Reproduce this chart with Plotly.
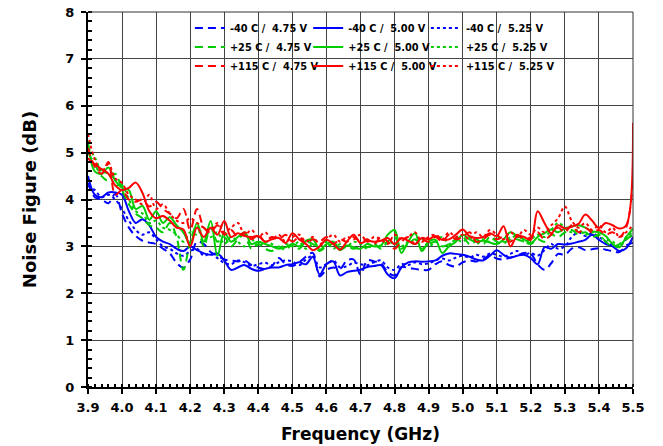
"""Noise figure vs frequency over temperature and supply."""

import numpy as np
import plotly.graph_objects as go

# frequency grid (GHz), 0.02 GHz steps from 3.90 to 5.50
freq_ghz = np.round(np.arange(3.90, 5.5001, 0.02), 2)

nf_m40_475 = [
    4.35, 4.05, 4.00, 3.92, 4.12, 3.70, 3.40, 3.22, 3.12, 3.08,
    3.05, 2.95, 2.85, 2.65, 2.55, 2.72, 3.10, 3.05, 2.88, 2.80,
    2.72, 2.70, 2.68, 2.70, 2.60, 2.55, 2.52, 2.58, 2.75, 2.62,
    2.58, 2.66, 2.78, 2.86, 2.36, 2.50, 2.55, 2.52, 2.70, 2.72,
    2.40, 2.70, 2.68, 2.64, 2.45, 2.38, 2.56, 2.54, 2.52, 2.50,
    2.50, 2.62, 2.68, 2.60, 2.57, 2.66, 2.70, 2.68, 2.72, 2.82,
    2.74, 2.72, 2.76, 2.80, 2.86, 2.84, 2.62, 2.50, 2.64, 2.84,
    2.82, 2.95, 2.98, 2.92, 2.94, 2.96, 2.93, 2.90, 2.88, 3.02,
    3.08,
]
nf_m40_500 = [
    4.50, 4.10, 4.05, 4.15, 4.15, 4.10, 3.75, 3.50, 3.58, 3.45,
    3.20, 3.10, 3.05, 2.95, 2.90, 3.00, 2.92, 2.85, 2.82, 2.85,
    2.70, 2.50, 2.55, 2.60, 2.52, 2.48, 2.52, 2.55, 2.55, 2.60,
    2.62, 2.66, 2.62, 2.78, 2.40, 2.62, 2.68, 2.38, 2.45, 2.48,
    2.50, 2.56, 2.58, 2.60, 2.40, 2.32, 2.55, 2.66, 2.68, 2.67,
    2.68, 2.70, 2.80, 2.85, 2.84, 2.82, 2.78, 2.72, 2.70, 2.80,
    2.92, 2.82, 2.76, 2.80, 2.82, 2.75, 2.62, 2.98, 2.95, 3.05,
    3.04, 3.06, 3.10, 3.14, 3.25, 3.14, 3.05, 3.00, 2.90, 2.96,
    3.20,
]
nf_m40_525 = [
    4.30, 4.20, 4.05, 4.10, 4.00, 3.80, 3.55, 3.35, 3.25, 3.30,
    3.15, 3.00, 2.95, 2.85, 2.80, 2.90, 2.95, 2.80, 2.85, 2.75,
    2.65, 2.62, 2.70, 2.66, 2.58, 2.62, 2.65, 2.60, 2.66, 2.70,
    2.68, 2.60, 2.72, 2.80, 2.55, 2.62, 2.70, 2.55, 2.58, 2.65,
    2.62, 2.60, 2.66, 2.70, 2.55, 2.50, 2.62, 2.60, 2.66, 2.62,
    2.64, 2.70, 2.74, 2.70, 2.76, 2.80, 2.76, 2.82, 2.78, 2.85,
    2.82, 2.78, 2.84, 2.90, 2.82, 2.86, 2.80, 2.92, 3.05, 2.95,
    3.00, 3.20, 3.30, 3.22, 3.28, 3.20, 3.10, 3.02, 3.00, 3.15,
    3.25,
]
nf_p25_475 = [
    5.00, 4.75, 4.50, 4.40, 4.55, 4.20, 3.90, 3.70, 3.60, 3.45,
    3.40, 3.30, 3.50, 3.20, 2.50, 3.10, 3.45, 3.00, 3.40, 3.10,
    3.20, 3.00, 3.15, 3.25, 2.95, 3.05, 2.95, 2.90, 3.00, 2.92,
    3.05, 2.95, 3.10, 3.05, 2.90, 3.00, 3.05, 2.92, 3.00, 2.95,
    3.00, 2.98, 3.05, 2.95, 3.10, 3.20, 2.95, 3.05, 3.15, 2.95,
    3.05, 3.10, 3.00, 3.05, 3.15, 3.20, 3.05, 3.15, 3.05, 3.20,
    3.10, 3.05, 3.20, 3.15, 3.10, 3.05, 3.15, 3.10, 3.25, 3.20,
    3.30, 3.35, 3.25, 3.30, 3.20, 3.25, 3.10, 3.00, 3.05, 3.15,
    3.25,
]
nf_p25_500 = [
    5.25, 4.60, 4.55, 4.68, 4.40, 4.25, 4.20, 3.80, 3.86, 3.57,
    3.75, 3.50, 3.62, 3.45, 3.30, 3.05, 3.50, 3.10, 3.54, 2.80,
    3.30, 3.10, 3.20, 3.30, 3.05, 3.10, 3.05, 3.00, 2.95, 2.98,
    3.05, 3.00, 3.12, 3.15, 2.93, 3.05, 3.10, 2.95, 3.02, 2.98,
    2.95, 3.05, 3.00, 3.02, 3.25, 3.35, 2.86, 3.10, 3.28, 2.90,
    3.10, 3.14, 2.86, 3.00, 3.10, 3.25, 3.15, 3.10, 3.12, 3.08,
    3.05, 3.15, 3.30, 3.22, 3.15, 3.07, 3.20, 3.28, 3.36, 3.30,
    3.38, 3.42, 3.45, 3.40, 3.32, 3.30, 3.22, 3.05, 2.98, 3.20,
    3.38,
]
nf_p25_525 = [
    5.10, 4.90, 4.60, 4.55, 4.30, 4.30, 4.00, 3.75, 3.70, 3.50,
    3.55, 3.40, 3.35, 3.25, 3.10, 3.30, 3.25, 3.40, 3.20, 3.30,
    3.05, 3.20, 3.10, 3.00, 3.15, 3.00, 3.10, 3.05, 2.95, 3.05,
    3.00, 3.10, 2.95, 3.05, 3.00, 3.10, 2.95, 3.05, 3.00, 3.10,
    3.05, 2.95, 3.05, 3.00, 3.10, 3.05, 3.00, 3.10, 3.05, 3.15,
    3.00, 3.10, 3.20, 3.05, 3.15, 3.10, 3.20, 3.05, 3.15, 3.10,
    3.20, 3.10, 3.15, 3.25, 3.10, 3.15, 3.25, 3.20, 3.35, 3.50,
    3.40, 3.30, 3.35, 3.25, 3.30, 3.20, 3.15, 3.10, 3.00, 3.20,
    3.30,
]
nf_p115_475 = [
    5.10, 4.70, 4.55, 4.80, 4.10, 4.20, 4.00, 3.95, 4.00, 3.85,
    3.95, 3.80, 3.70, 3.60, 3.80, 3.35, 3.80, 3.40, 3.30, 3.45,
    3.25, 3.35, 3.20, 3.30, 3.15, 3.25, 3.10, 3.20, 3.15, 3.25,
    3.10, 3.20, 3.05, 3.15, 3.10, 3.20, 3.05, 3.15, 3.10, 3.20,
    3.10, 3.15, 3.05, 3.20, 3.10, 2.95, 3.10, 3.20, 3.05, 3.15,
    3.10, 3.20, 3.10, 3.25, 3.15, 3.20, 3.30, 3.10, 3.15, 3.25,
    3.15, 3.20, 3.10, 3.25, 3.15, 3.20, 3.30, 3.15, 3.25, 3.40,
    3.30, 3.45, 3.30, 3.40, 3.30, 3.35, 3.25, 3.30, 3.20, 3.40,
    4.40,
]
nf_p115_500 = [
    4.88, 4.75, 4.65, 4.55, 4.30, 4.20, 4.25, 4.36, 4.14, 3.75,
    3.60, 3.65, 3.55, 3.40, 3.36, 3.00, 3.40, 3.20, 3.40, 3.25,
    3.54, 3.20, 3.28, 3.22, 3.20, 3.22, 3.10, 3.15, 3.18, 3.07,
    3.28, 3.15, 3.05, 2.92, 3.00, 3.14, 3.05, 2.93, 3.10, 3.25,
    3.07, 3.12, 3.10, 3.12, 3.18, 3.05, 3.18, 3.12, 3.05, 3.18,
    3.15, 3.22, 3.14, 3.15, 3.25, 3.36, 3.22, 3.18, 3.20, 3.28,
    3.22, 3.43, 3.00, 3.22, 3.20, 3.14, 3.75, 3.50, 3.28, 3.45,
    3.38, 3.42, 3.48, 3.68, 3.55, 3.39, 3.50, 3.45, 3.38, 3.45,
    5.64,
]
nf_p115_525 = [
    5.40, 4.85, 4.60, 4.75, 4.45, 4.35, 4.10, 4.00, 3.90, 4.10,
    3.80, 3.90, 3.70, 3.55, 3.50, 3.60, 3.50, 3.40, 3.35, 3.50,
    3.30, 3.40, 3.50, 3.25, 3.35, 3.20, 3.30, 3.15, 3.25, 3.10,
    3.20, 3.25, 3.10, 3.20, 3.05, 3.15, 3.25, 3.10, 3.20, 3.15,
    3.25, 3.10, 3.20, 3.15, 3.05, 3.25, 3.15, 3.20, 3.30, 3.10,
    3.20, 3.25, 3.15, 3.30, 3.20, 3.25, 3.15, 3.30, 3.20, 3.35,
    3.25, 3.15, 3.30, 3.20, 3.35, 3.25, 3.40, 3.30, 3.45, 3.60,
    3.85, 3.55, 3.40, 3.50, 3.35, 3.45, 3.30, 3.40, 3.20, 3.30,
    3.45,
]

# (name, values, colour, dash, legend column)
series = [
    ("-40 C /  4.75 V", nf_m40_475, "#0000FF", "8px,5px", "legend"),
    ("-40 C /  5.00 V", nf_m40_500, "#0000FF", "solid", "legend2"),
    ("-40 C /  5.25 V", nf_m40_525, "#0000FF", "3px,3px", "legend3"),
    ("+25 C /  4.75 V", nf_p25_475, "#00CC00", "8px,5px", "legend"),
    ("+25 C /  5.00 V", nf_p25_500, "#00CC00", "solid", "legend2"),
    ("+25 C /  5.25 V", nf_p25_525, "#00CC00", "3px,3px", "legend3"),
    ("+115 C /  4.75 V", nf_p115_475, "#FF0000", "8px,5px", "legend"),
    ("+115 C /  5.00 V", nf_p115_500, "#FF0000", "solid", "legend2"),
    ("+115 C /  5.25 V", nf_p115_525, "#FF0000", "3px,3px", "legend3"),
]

FONT = "DejaVu Sans, Verdana, sans-serif"

fig = go.Figure()
for name, values, color, dash, legend_id in series:
    fig.add_trace(
        go.Scatter(
            x=freq_ghz,
            y=values,
            name=name,
            mode="lines",
            legend=legend_id,
            line={"color": color, "width": 2, "dash": dash, "shape": "spline", "smoothing": 1.0},
        )
    )

axis_common = dict(
    automargin=False,
    showline=True,
    linecolor="black",
    linewidth=2,
    showgrid=True,
    gridcolor="#444444",
    gridwidth=1,
    zeroline=False,
    ticks="outside",
    ticklen=5,
    tickwidth=1.5,
    tickcolor="black",
    tickfont={"family": FONT, "size": 13, "color": "black", "weight": "bold"},
)

fig.update_xaxes(
    range=[3.9, 5.5],
    dtick=0.1,
    tick0=3.9,
    tickformat=".1f",
    minor={"dtick": 0.02, "ticks": "inside", "ticklen": 3, "tickcolor": "black", "showgrid": False},
    ticklabelstandoff=2,
    title={"text": "Frequency (GHz)", "font": {"family": FONT, "size": 17, "color": "black", "weight": "bold"}, "standoff": 15},
    **axis_common,
)
fig.update_yaxes(
    range=[0, 8],
    dtick=1,
    minor={"dtick": 0.2, "ticks": "inside", "ticklen": 4, "tickcolor": "black", "showgrid": False},
    ticklabelstandoff=4,
    title={"text": "Noise Figure (dB)", "font": {"family": FONT, "size": 18, "color": "black", "weight": "bold"}, "standoff": 24},
    **axis_common,
)

# top and right frame lines
fig.add_shape(type="line", xref="paper", yref="paper", x0=0, x1=1, y0=1, y1=1,
              line={"color": "#333333", "width": 1})
fig.add_shape(type="line", xref="paper", yref="paper", x0=1, x1=1, y0=0, y1=1,
              line={"color": "#333333", "width": 1})
# white panel behind the legend block, over the grid but under the traces
fig.add_shape(type="rect", xref="paper", yref="paper", x0=0.1835, x1=0.831, y0=0.838, y1=0.982,
              fillcolor="white", line={"width": 0}, layer="between")

legend_common = {
    "orientation": "v",
    "y": 0.996,
    "yanchor": "top",
    "xanchor": "left",
    "bgcolor": "rgba(0,0,0,0)",
    "borderwidth": 0,
    "font": {"family": FONT, "size": 9.8, "color": "black", "weight": "bold"},
    "tracegroupgap": 0,
}

fig.update_layout(
    width=663,
    height=446,
    margin={"l": 88, "r": 30, "t": 12, "b": 59},
    paper_bgcolor="white",
    plot_bgcolor="white",
    font={"family": FONT, "color": "black"},
    legend={**legend_common, "x": 0.187},
    legend2={**legend_common, "x": 0.404},
    legend3={**legend_common, "x": 0.620},
)

# drop the default page margin so the figure sits at the window corner
fig.write_html(
    "out.html",
    config={"displayModeBar": False},
    post_script="document.body.style.margin = '0';",
)
